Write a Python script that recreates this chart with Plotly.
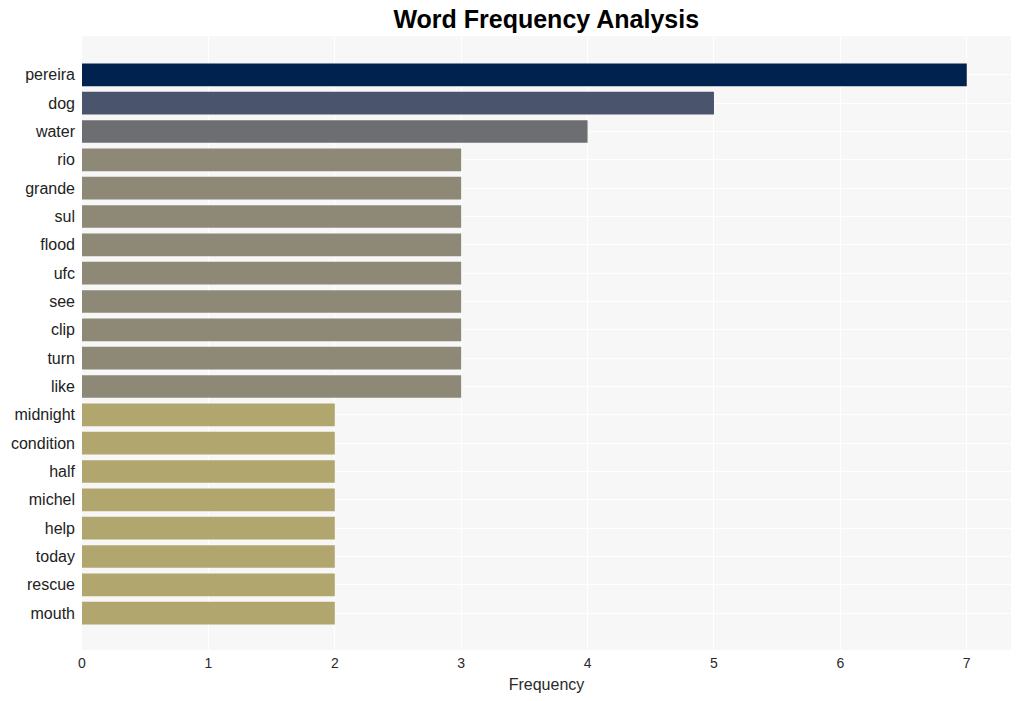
import plotly.graph_objects as go

words = ["pereira", "dog", "water", "rio", "grande", "sul", "flood", "ufc", "see", "clip",
         "turn", "like", "midnight", "condition", "half", "michel", "help", "today", "rescue", "mouth"]
counts = [7, 5, 4, 3, 3, 3, 3, 3, 3, 3, 3, 3, 2, 2, 2, 2, 2, 2, 2, 2]

fig = go.Figure(go.Bar(
    x=counts, y=words, orientation="h",
    marker=dict(color=counts, colorscale="Cividis", reversescale=True, cmin=0, cmax=7,
                line=dict(width=0)),
))

fig.update_layout(
    width=1021, height=701,
    margin=dict(l=82, r=10, t=36, b=51),
    paper_bgcolor="white",
    plot_bgcolor="#f7f7f7",
    bargap=0.2,
    font=dict(family="Arial, Liberation Sans, sans-serif", size=14, color="#2a2a2a"),
    title=dict(text="<b>Word Frequency Analysis</b>", x=0.535, xanchor="center", y=0.972,
               yanchor="middle", font=dict(size=25, color="black")),
    showlegend=False,
)
fig.update_xaxes(title=dict(text="Frequency", standoff=8,
                            font=dict(size=16, family="Arial, Liberation Sans, sans-serif")),
                 range=[0, 7.35], dtick=1,
                 showgrid=True, gridcolor="white", gridwidth=1, zeroline=False,
                 ticklabelstandoff=3, tickfont=dict(size=14))
fig.update_yaxes(autorange=False, range=[20.3, -1.37], showgrid=True, gridcolor="white",
                 ticks="", ticklabelstandoff=6, tickfont=dict(size=16, color="#222"))

fig.write_html("out.html")
